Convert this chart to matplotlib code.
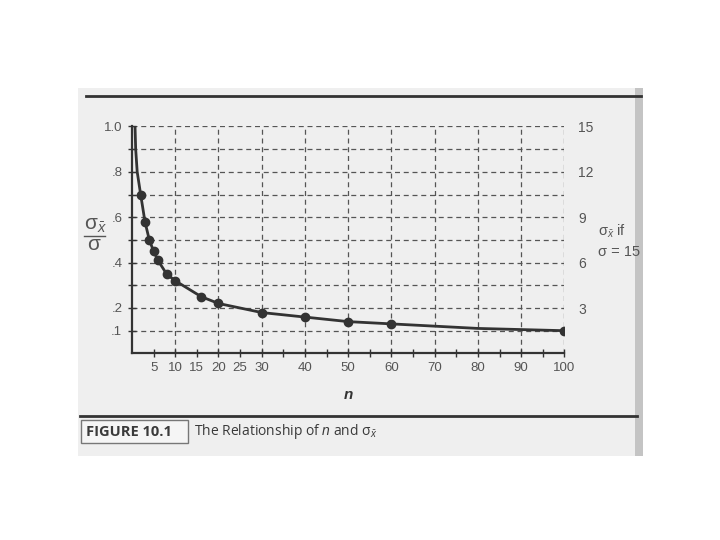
import matplotlib
matplotlib.use("Agg")
import matplotlib.pyplot as plt
from matplotlib.patches import Rectangle
from matplotlib.lines import Line2D

plt.rcParams['font.family'] = ['Liberation Sans', 'DejaVu Sans']
plt.rcParams['mathtext.fontset'] = 'custom'
plt.rcParams['mathtext.rm'] = 'Liberation Sans'
plt.rcParams['mathtext.it'] = 'Liberation Sans:italic'
plt.rcParams['mathtext.bf'] = 'Liberation Sans:bold'

# sample size n and ratio sigma_xbar / sigma
n_values = [0.7, 0.85, 1.2, 2, 3, 4, 5, 6, 8, 10, 16, 20, 30, 40, 50, 60, 70, 80, 90, 100]
ratio_values = [1.0, 0.9, 0.8, 0.70, 0.58, 0.50, 0.45, 0.41, 0.35, 0.32, 0.25, 0.22,
                0.18, 0.16, 0.14, 0.13, 0.12, 0.11, 0.105, 0.10]
marked = [False, False, False, True, True, True, True, True, True, True, True, True,
          True, True, True, True, False, False, False, True]

x_tick_values = [5, 10, 15, 20, 25, 30, 40, 50, 60, 70, 80, 90, 100]
y_tick_labels = {1.0: '1.0', 0.8: '.8', 0.6: '.6', 0.4: '.4', 0.2: '.2', 0.1: '.1'}
right_ticks = [3, 6, 9, 12, 15]

W, H = 720, 540
ink = '#333333'
grey_text = '#555555'


def fx(x):
    return x / W


def fy(y):
    return 1 - y / H


fig = plt.figure(figsize=(7.2, 5.4), dpi=100)
fig.patch.set_facecolor('white')

# scanned page background
fig.patches.append(Rectangle((fx(78), fy(456)), fx(643 - 78), (456 - 88) / H,
                             transform=fig.transFigure, facecolor='#efefef',
                             edgecolor='none', zorder=-2))
fig.patches.append(Rectangle((fx(635), fy(456)), fx(8), (456 - 88) / H,
                             transform=fig.transFigure, facecolor='#c4c4c4',
                             edgecolor='none', zorder=-2))

# rules
fig.lines.append(Line2D([fx(86), fx(641)], [fy(96), fy(96)], transform=fig.transFigure,
                        color=ink, lw=2))
fig.lines.append(Line2D([fx(80), fx(637)], [fy(416), fy(416)], transform=fig.transFigure,
                        color=ink, lw=2))

ax = fig.add_axes([fx(132), fy(353.4), fx(564.4 - 132), (353.4 - 126.4) / H])
ax.set_facecolor('none')
ax.set_xlim(0, 100)
ax.set_ylim(0, 1.0)

# dashed grid
for gx in range(10, 101, 10):
    ax.axvline(gx, color='#555555', lw=0.9, ls=(0, (4, 3)), zorder=1)
for gy in [i / 10 for i in range(1, 11)]:
    ax.axhline(gy, color='#555555', lw=0.9, ls=(0, (4, 3)), zorder=1)

ax.plot(n_values, ratio_values, color=ink, lw=2, zorder=3, solid_capstyle='round')
ax.plot([n for n, m in zip(n_values, marked) if m],
        [r for r, m in zip(ratio_values, marked) if m],
        'o', color=ink, markersize=6, zorder=4)

for side in ['top', 'right']:
    ax.spines[side].set_visible(False)
for side in ['left', 'bottom']:
    ax.spines[side].set_color(ink)
    ax.spines[side].set_linewidth(1.6)

ax.set_xticks(list(range(5, 101, 5)), minor=True)
ax.set_xticks(x_tick_values)
ax.set_xticklabels([str(v) for v in x_tick_values])
ax.set_yticks([i / 10 for i in range(1, 11)], minor=True)
ax.set_yticks(list(y_tick_labels.keys()))
ax.set_yticklabels(list(y_tick_labels.values()))
ax.tick_params(axis='both', which='both', direction='inout', length=6, width=1,
               color=ink, labelsize=9.5, labelcolor=grey_text)
ax.tick_params(axis='x', pad=3)
ax.tick_params(axis='y', pad=4)

ax2 = ax.twinx()
ax2.set_ylim(0, 15)
ax2.set_yticks(right_ticks)
ax2.set_yticklabels([str(v) for v in right_ticks])
ax2.tick_params(axis='y', length=0, pad=10, labelsize=10, labelcolor=grey_text)
for side in ax2.spines:
    ax2.spines[side].set_visible(False)

# axis labels
fig.text(fx(348), fy(395), 'n', fontsize=11, fontweight='bold', style='italic',
         color=ink, ha='center', va='center')
fig.text(fx(95), fy(225), r'σ$_{\bar{x}}$', fontsize=15,
         color=grey_text, ha='center', va='center')
fig.lines.append(Line2D([fx(84), fx(105)], [fy(236), fy(236)], transform=fig.transFigure,
                        color=grey_text, lw=1))
fig.text(fx(94), fy(245), 'σ', fontsize=15,
         color=grey_text, ha='center', va='center')
fig.text(fx(598), fy(231), r'σ$_{\bar{x}}$ if', fontsize=10.5,
         color=grey_text, ha='left', va='center')
fig.text(fx(598), fy(252), 'σ = 15', fontsize=10.5,
         color=grey_text, ha='left', va='center')

# caption
fig.patches.append(Rectangle((fx(81), fy(443)), fx(188 - 81), (443 - 420) / H,
                             transform=fig.transFigure, facecolor='#f5f5f5',
                             edgecolor='#777777', lw=1, zorder=2))
fig.text(fx(86), fy(431.5), 'FIGURE 10.1', fontsize=10.5, fontweight='bold',
         family=['Open Sans', 'DejaVu Sans'], color='#3a3a3a', ha='left', va='center')
fig.text(fx(194), fy(431.5), r'The Relationship of $n$ and σ$_{\bar{x}}$', fontsize=10,
         family=['Open Sans', 'DejaVu Sans'], color='#3a3a3a', ha='left', va='center')

fig.savefig('out.png', dpi=100)
